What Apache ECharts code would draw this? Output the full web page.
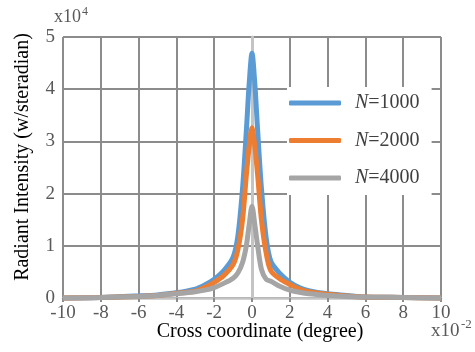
<!DOCTYPE html>
<html>
<head>
<meta charset="utf-8">
<script src="https://cdn.jsdelivr.net/npm/echarts@6/dist/echarts.min.js"></script>
<style>
html,body{margin:0;padding:0;background:#fff;}
#c{width:475px;height:352px;}
</style>
</head>
<body>
<div id="c"></div>
<script>
const xValues = [-10,-8,-6,-5,-4,-3,-2.5,-2,-1.5,-1,-0.75,-0.5,-0.3,-0.15,0,0.15,0.3,0.5,0.75,1,1.5,2,2.5,3,4,5,6,8,10];
const n1000 = [0,0.01,0.04,0.06,0.1,0.17,0.25,0.36,0.52,0.78,1.18,2.1,3.2,4.1,4.69,4.1,3.2,2.1,1.15,0.7,0.46,0.3,0.2,0.14,0.08,0.05,0.02,0.01,0];
const n2000 = [0,0.01,0.03,0.05,0.09,0.13,0.2,0.3,0.43,0.64,0.92,1.5,2.35,2.9,3.26,2.9,2.35,1.5,0.86,0.52,0.36,0.26,0.17,0.12,0.07,0.04,0.02,0.01,0];
const n4000 = [0,0.01,0.03,0.05,0.08,0.12,0.15,0.2,0.28,0.38,0.48,0.68,1.0,1.4,1.76,1.4,1.0,0.55,0.36,0.32,0.22,0.15,0.11,0.08,0.05,0.03,0.02,0.01,0];
const seriesNames = ['N=1000','N=2000','N=4000'];
const seriesColors = ['#5B9BD5','#ED7D31','#A5A5A5'];
const xTicks = {min:-10, max:10, interval:2};
const yTicks = {min:0, max:5, interval:1};

const serif = 'Liberation Serif';
const pair = (arr) => xValues.map((x,i)=>[x,arr[i]]);
const allData = [n1000,n2000,n4000];

const chart = echarts.init(document.getElementById('c'), null, {renderer:'canvas'});
chart.setOption({
  animation:false,
  backgroundColor:'#ffffff',
  grid:{left:63, right:34, top:37, bottom:54, containLabel:false},
  xAxis:{
    type:'value', min:xTicks.min, max:xTicks.max, interval:xTicks.interval,
    axisLine:{show:true, onZero:false, lineStyle:{color:'#c4c4c4', width:2.5}},
    axisTick:{show:true, length:4, lineStyle:{color:'#8c8c8c', width:2}},
    splitLine:{show:true, lineStyle:{color:'#8c8c8c', width:2}},
    axisLabel:{fontSize:19, color:'#595959', margin:6, fontFamily:serif}
  },
  yAxis:{
    type:'value', min:yTicks.min, max:yTicks.max, interval:yTicks.interval,
    axisLine:{show:true, lineStyle:{color:'#c4c4c4', width:3}},
    axisTick:{show:false},
    splitLine:{show:true, lineStyle:{color:'#8c8c8c', width:2}},
    axisLabel:{fontSize:19, color:'#595959', margin:8, fontFamily:serif}
  },
  legend:{
    orient:'vertical', left:287, top:87,
    backgroundColor:'#ffffff',
    padding:[5,12,6,2],
    itemGap:15.5,
    itemWidth:52, itemHeight:5,
    icon:'roundRect',
    data:seriesNames,
    formatter:function(name){ const p = name.split('='); return '{i|N}{t|=' + p[1] + '}'; },
    textStyle:{
      fontFamily:serif, fontSize:20, color:'#404040', lineHeight:22,
      rich:{
        i:{fontFamily:serif, fontSize:20, fontStyle:'italic', color:'#404040', padding:[0,0,0,9], lineHeight:22},
        t:{fontFamily:serif, fontSize:20, color:'#404040', lineHeight:22}
      }
    }
  },
  graphic:[
    {type:'text', left:54, top:8, style:{text:'x10', font:'18px "Liberation Serif"', fill:'#595959'}},
    {type:'text', left:82, top:6, style:{text:'4', font:'12px "Liberation Serif"', fill:'#595959'}},
    {type:'text', left:431, top:322, style:{text:'x10', font:'19px "Liberation Serif"', fill:'#595959'}},
    {type:'text', left:461, top:318, style:{text:'-2', font:'13px "Liberation Serif"', fill:'#595959'}},
    {type:'text', x:23, y:157, rotation:Math.PI/2,
      style:{text:'Radiant Intensity (w/steradian)', font:'20px "Liberation Serif"', fill:'#000000', align:'center', verticalAlign:'middle'}},
    {type:'text', x:260, y:332,
      style:{text:'Cross coordinate (degree)', font:'20px "Liberation Serif"', fill:'#000000', align:'center', verticalAlign:'middle'}}
  ],
  series: seriesNames.map((nm,k)=>({
    name:nm, type:'line', data:pair(allData[k]),
    showSymbol:false, symbol:'none', smooth:0.3, clip:false,
    lineStyle:{color:seriesColors[k], width:5},
    itemStyle:{color:seriesColors[k]},
    z:2+k
  }))
});
</script>
</body>
</html>
